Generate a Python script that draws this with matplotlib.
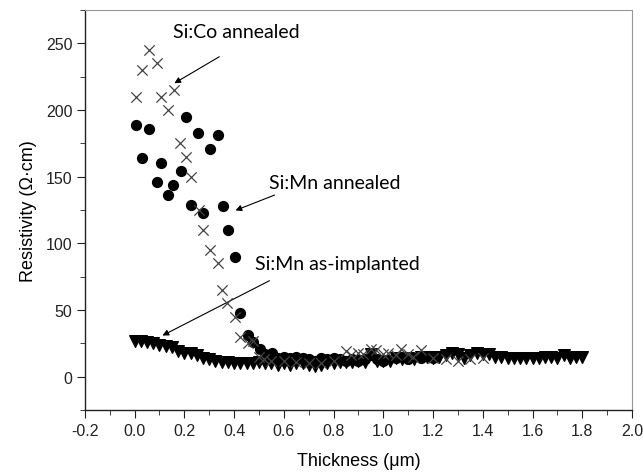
import numpy as np
import matplotlib
matplotlib.use('Agg')
import matplotlib.pyplot as plt

plt.rcParams['font.family'] = ['Liberation Sans', 'DejaVu Sans']
plt.rcParams['axes.unicode_minus'] = False

# Si:Co annealed (crosses)
co_x = [0.007, 0.028, 0.056, 0.089, 0.107, 0.136, 0.16, 0.184, 0.207, 0.226, 0.257, 0.274,
        0.303, 0.336, 0.352, 0.37, 0.405, 0.425, 0.454, 0.477, 0.50, 0.52, 0.55, 0.60, 0.65,
        0.70, 0.75, 0.80, 0.85, 0.87, 0.90, 0.92, 0.95, 0.97, 1.00, 1.02, 1.05, 1.07, 1.10,
        1.12, 1.15, 1.20, 1.25, 1.30, 1.35, 1.40]
co_y = [210, 230, 245, 235, 210, 200, 215, 175, 165, 150, 125, 110,
        95, 85, 65, 55, 45, 30, 25, 27, 15, 13, 12, 12, 11,
        10, 10, 12, 19, 16, 18, 17, 21, 20, 17, 18, 16, 21, 17,
        15, 20, 14, 13, 12, 13, 14]

# Si:Mn annealed (circles)
mn_x = [0.007, 0.028, 0.056, 0.089, 0.107, 0.136, 0.156, 0.185, 0.207, 0.226, 0.256, 0.275,
        0.305, 0.334, 0.354, 0.374, 0.405, 0.425, 0.454, 0.474, 0.503, 0.523, 0.552, 0.575,
        0.60, 0.625, 0.65, 0.675, 0.70, 0.725, 0.75, 0.775, 0.80, 0.825, 0.85, 0.875, 0.90,
        0.925, 0.95, 0.975, 1.00, 1.05, 1.10, 1.15, 1.20]
mn_y = [189, 164, 186, 146, 160, 136, 144, 154, 195, 129, 183, 123,
        171, 181, 128, 110, 90, 48, 31, 26, 21, 17, 18, 14,
        15, 14, 15, 14, 13, 12, 14, 13, 14, 13, 12, 13, 12,
        13, 16, 13, 12, 14, 13, 14, 14]

# Si:Mn as-implanted (down triangles), step 0.025 um
imp_x = np.round(np.arange(0, 1.8001, 0.025), 3)
imp_y = [27, 27, 26, 25, 24, 23, 22, 19, 18, 18, 16, 14, 13, 12, 11, 11, 10, 10, 10, 10,
         11, 10, 10, 9, 10, 9, 10, 10, 9, 8, 9, 10, 10, 11, 11, 11, 12, 11, 17, 12,
         12, 12, 14, 13, 14, 13, 15, 15, 14, 15, 16, 18, 17, 14, 16, 18, 17, 17, 15, 15,
         14, 14, 14, 14, 14, 14, 15, 15, 14, 16, 14, 15, 15]

x_ticks = [-0.2, 0.0, 0.2, 0.4, 0.6, 0.8, 1.0, 1.2, 1.4, 1.6, 1.8, 2.0]
x_labels = ['-0.2', '0.0', '0.2', '0.4', '0.6', '0.8', '1.0', '1.2', '1.4', '1.6', '1.8', '2.0']
y_ticks = [0, 50, 100, 150, 200, 250]

fig = plt.figure(figsize=(6.43, 4.77), dpi=100)
ax = fig.add_axes([0.132, 0.138, 0.851, 0.839])

ax.scatter(imp_x, imp_y, marker='v', s=70, color='black', zorder=2)
ax.scatter(mn_x, mn_y, marker='o', s=50, color='black', zorder=3)
ax.scatter(co_x, co_y, marker='x', s=55, color='#444444', linewidths=0.9, zorder=4)

ax.set_xlim(-0.2, 2.0)
ax.set_ylim(-25, 275)
ax.set_xticks(x_ticks)
ax.set_xticklabels(x_labels)
ax.set_xticks(np.arange(-0.1, 2.0, 0.2), minor=True)
ax.set_yticks(y_ticks)
ax.set_yticks([-25, 25, 75, 125, 175, 225, 275], minor=True)
ax.tick_params(which='both', direction='out', color='#222222', labelcolor='#222222')
ax.tick_params(which='major', length=5.5, labelsize=11.5)
ax.tick_params(which='minor', length=3.5)

for s in ['top', 'right']:
    ax.spines[s].set_color('#999999')
    ax.spines[s].set_linewidth(0.8)
for s in ['left', 'bottom']:
    ax.spines[s].set_color('#222222')
    ax.spines[s].set_linewidth(1.0)

ax.set_xlabel('Thickness (\u03bcm)', fontsize=13, labelpad=10)
ax.set_ylabel('Resistivity (\u03a9\u00b7cm)', fontsize=13, labelpad=6)

arrow = dict(arrowstyle='-|>', color='black', lw=0.8, mutation_scale=9)
ax.annotate('', xy=(0.15, 219), xytext=(0.35, 241), arrowprops=arrow)
ax.text(0.41, 259, 'Si:Co annealed', ha='center', va='center', fontsize=14, family='Lato')
ax.annotate('', xy=(0.395, 124), xytext=(0.573, 137), arrowprops=arrow)
ax.text(0.806, 146, 'Si:Mn annealed', ha='center', va='center', fontsize=14, family='Lato')
ax.annotate('', xy=(0.102, 30), xytext=(0.552, 73), arrowprops=arrow)
ax.text(0.815, 85, 'Si:Mn as-implanted', ha='center', va='center', fontsize=14, family='Lato')

fig.savefig('out.png', dpi=100)
